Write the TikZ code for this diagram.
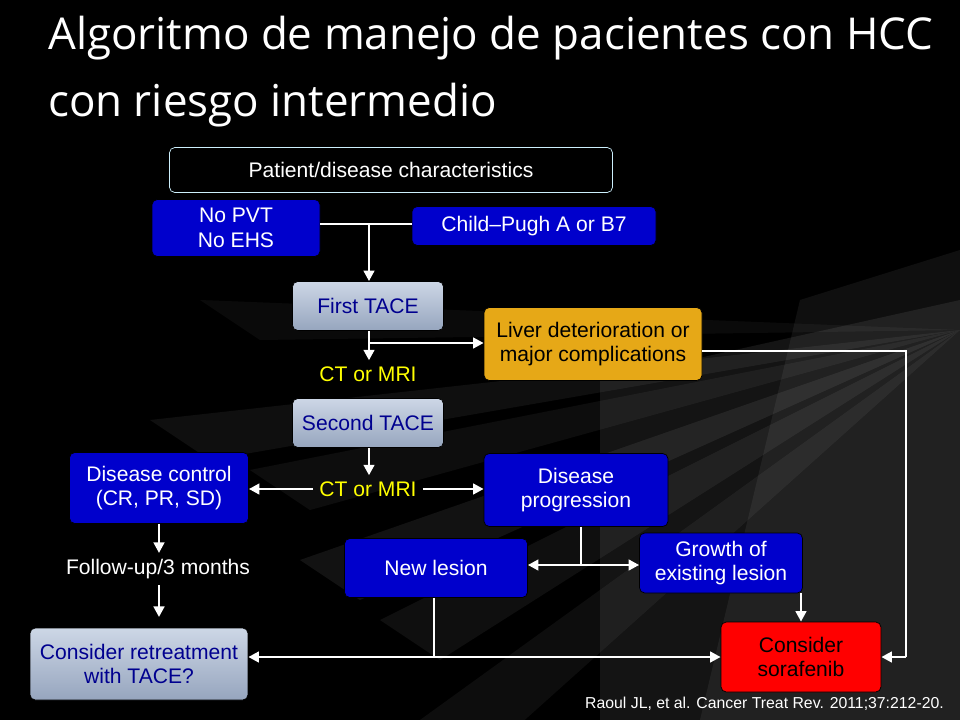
\documentclass[tikz,border=0pt]{standalone}
\usepackage{fontspec}
\setmainfont{Liberation Sans}
\newfontfamily\titlefont{Open Sans}
\usetikzlibrary{arrows.meta, positioning}
\definecolor{boxblue}{RGB}{0,0,204}
\definecolor{boxorange}{RGB}{230,168,23}
\definecolor{boxred}{RGB}{255,0,0}
\definecolor{boxgrayT}{RGB}{205,215,230}
\definecolor{boxgrayB}{RGB}{150,165,190}
\definecolor{ctyellow}{RGB}{255,255,0}
\tikzset{
  box/.style={draw=black, rounded corners=3pt, align=center, font=\fontsize{12}{14}\selectfont, inner sep=2pt},
  bluebox/.style={box, fill=boxblue, text=white},
  tacebox/.style={box, top color=boxgrayT, bottom color=boxgrayB, text=boxblue!70!black},
  flow/.style={draw=white, line width=1.6pt},
  arr/.style={flow, -{Triangle[width=6pt,length=6pt]}},
  ctlabel/.style={text=ctyellow, font=\fontsize{12}{14}\selectfont}
}
\begin{document}
\begin{tikzpicture}[x=0.02cm, y=-0.02cm, >=Latex]

        % Background
        \useasboundingbox (0,0) rectangle (960,720);
        \clip (0,0) rectangle (960,720);
        \fill[black] (0,0) rectangle (960,720);
        \foreach \a/\b/\o in {150/420/0.06, 250/470/0.05, 300/560/0.07, 380/620/0.06, 200/300/0.04, 420/720/0.05}
          \fill[white, opacity=\o] (960,330) -- (\a,\b) -- (\a+60,\b+40) -- cycle;
        \fill[white, opacity=0.08] (960,300) -- (600,380) -- (600,720) -- (960,720) -- cycle;
        \fill[white, opacity=0.06] (960,250) -- (800,300) -- (700,720) -- (960,720) -- cycle;

        % Title
        \node[anchor=north west, align=left, text=white, font=\titlefont\fontsize{25}{38}\selectfont] (title) at (42,10) {Algoritmo de manejo de pacientes con HCC\\con riesgo intermedio};

        % Nodes
        \node[box, fill=black, text=white, draw=white!80!cyan, minimum width=443*0.02cm, minimum height=45*0.02cm] (patient) at (391,170) {Patient/disease characteristics};
        \node[bluebox, minimum width=168*0.02cm, minimum height=57*0.02cm] (nopvt) at (236,228) {No PVT\\No EHS};
        \node[bluebox, minimum width=244*0.02cm, minimum height=39*0.02cm] (child) at (534,226) {Child--Pugh A or B7};
        \node[tacebox, minimum width=151*0.02cm, minimum height=49*0.02cm] (first) at (368,306) {First TACE};
        \node[box, fill=boxorange, text=black, minimum width=218*0.02cm, minimum height=73*0.02cm] (liver) at (593,344) {Liver deterioration or\\major complications};
        \node[ctlabel] (ct1) at (368,374) {CT or MRI};
        \node[tacebox, minimum width=151*0.02cm, minimum height=49*0.02cm] (second) at (368,423) {Second TACE};
        \node[bluebox, minimum width=179*0.02cm, minimum height=71*0.02cm] (control) at (159,488) {Disease control\\(CR, PR, SD)};
        \node[ctlabel] (ct2) at (368,489) {CT or MRI};
        \node[bluebox, minimum width=184*0.02cm, minimum height=73*0.02cm] (progr) at (576,490) {Disease\\progression};
        \node[bluebox, minimum width=183*0.02cm, minimum height=59*0.02cm] (newles) at (436,568) {New lesion};
        \node[bluebox, minimum width=163*0.02cm, minimum height=60*0.02cm] (growth) at (721,563) {Growth of\\existing lesion};
        \node[text=white, font=\fontsize{12}{14}\selectfont] (follow) at (158,569) {Follow-up/3 months};
        \node[tacebox, minimum width=218*0.02cm, minimum height=72*0.02cm] (retreat) at (139,664) {Consider retreatment\\with TACE?};
        \node[box, fill=boxred, text=black, minimum width=160*0.02cm, minimum height=70*0.02cm] (sora) at (801,657) {Consider\\sorafenib};
        \node[anchor=east, text=white, font=\fontsize{9}{11}\selectfont] (cite) at (950,704) {Raoul JL, et al. Cancer Treat Rev. 2011;37:212-20.};

        % Coordinates
        \coordinate (j1) at (369,224);
        \coordinate (j2) at (369,343);
        \coordinate (j3) at (581,565);
        \coordinate (j4) at (906,351);
        \coordinate (j5) at (906,657);
        \coordinate (j6) at (434,657);

        % Arrows
        \draw[flow] (nopvt.east |- j1) -- (child.west |- j1);
        \draw[arr] (j1) -- (first.north -| j1);
        \draw[arr] (first.south -| j1) -- (ct1.north -| j1);
        \draw[arr] (j2) -- (liver.west |- j2);
        \draw[arr] (second.south -| j1) -- (ct2.north -| j1);
        \draw[arr] (ct2) -- (control.east |- ct2);
        \draw[arr] (ct2) -- (progr.west |- ct2);
        \draw[arr] (control.south) -- (follow.north -| control.south);
        \draw[arr] (follow.south -| control.south) -- ++(0,32);
        \draw[flow] (progr.south -| j3) -- (j3);
        \draw[arr] (j3) -- (newles.east |- j3);
        \draw[arr] (j3) -- (growth.west |- j3);
        \draw[arr] (growth.south -| sora.north) -- (sora.north);
        \draw[flow] (liver.east |- j4) -- (j4) -- (j5);
        \draw[arr] (j5) -- (sora.east);
        \draw[flow] (newles.south -| j6) -- (j6);
        \draw[arr] (j6) -- (retreat.east |- j6);
        \draw[arr] (j6) -- (sora.west |- j6);

\end{tikzpicture}
\end{document}
